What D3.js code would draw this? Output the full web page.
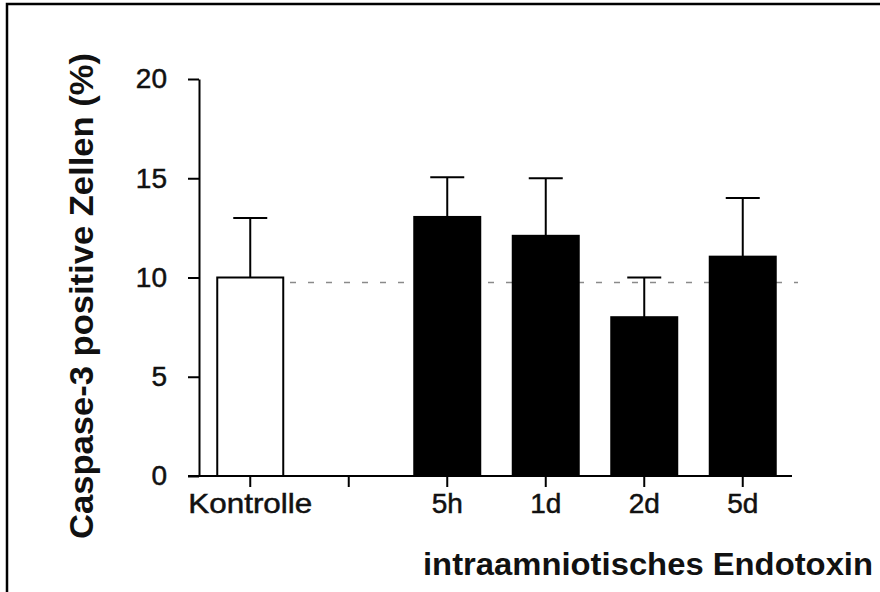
<!DOCTYPE html>
<html>
<head>
<meta charset="utf-8">
<script src="https://cdn.jsdelivr.net/npm/d3@7"></script>
<style>
  html, body { margin: 0; padding: 0; background: #fff; }
  svg { display: block; }
</style>
</head>
<body>
<svg id="chart" width="880" height="592"></svg>
<script>
// ---- data ----
const categories = ["Kontrolle", "gap", "5h", "1d", "2d", "5d"];
const tickLabels = ["Kontrolle", "", "5h", "1d", "2d", "5d"];
const means      = [10, null, 13.05, 12.1, 8, 11.05];
const upperError = [13, null, 15.05, 15, 10, 14];
const barFills   = ["white", null, "black", "black", "black", "black"];
const yTicks     = [0, 5, 10, 15, 20];
const referenceLevel = 9.75;
const yTitle = "Caspase-3 positive Zellen (%)";
const xTitle = "intraamniotisches Endotoxin";

const svg = d3.select("#chart");
const font = "'Liberation Sans', Arial, Helvetica, sans-serif";

// frame
svg.append("rect")
  .attr("x", 7).attr("y", 4)
  .attr("width", 900).attr("height", 620)
  .attr("fill", "white").attr("stroke", "black").attr("stroke-width", 2.5);

const x = d3.scaleBand().domain(categories).range([201, 792]).padding(0);
const y = d3.scaleLinear().domain([0, 20]).range([476, 79]);
const barW = x.bandwidth() * 0.67;
const capW = 34;

const rows = categories.map((c, i) => ({c, v: means[i], e: upperError[i], fill: barFills[i]}))
  .filter(d => d.v != null);

// dashed reference line
svg.append("line")
  .attr("x1", 290).attr("x2", 798)
  .attr("y1", y(referenceLevel)).attr("y2", y(referenceLevel))
  .attr("stroke", "#8a8a8a").attr("stroke-width", 1.5)
  .attr("stroke-dasharray", "6 12");

// error bars
const eg = svg.append("g").attr("stroke", "black").attr("stroke-width", 2);
eg.selectAll("line.v").data(rows).join("line")
  .attr("x1", d => x(d.c) + x.bandwidth() / 2)
  .attr("x2", d => x(d.c) + x.bandwidth() / 2)
  .attr("y1", d => y(d.v)).attr("y2", d => y(d.e));
eg.selectAll("line.cap").data(rows).join("line")
  .attr("x1", d => x(d.c) + x.bandwidth() / 2 - capW / 2)
  .attr("x2", d => x(d.c) + x.bandwidth() / 2 + capW / 2)
  .attr("y1", d => y(d.e)).attr("y2", d => y(d.e));

// bars
svg.append("g").selectAll("rect").data(rows).join("rect")
  .attr("x", d => x(d.c) + (x.bandwidth() - barW) / 2)
  .attr("width", barW)
  .attr("y", d => y(d.v))
  .attr("height", d => y(0) - y(d.v))
  .attr("fill", d => d.fill)
  .attr("stroke", "black").attr("stroke-width", 2);

// axes
const yAxis = svg.append("g").attr("transform", "translate(199,0)")
  .call(d3.axisLeft(y).tickValues(yTicks).tickSize(11).tickSizeOuter(0).tickPadding(21));
const xAxis = svg.append("g").attr("transform", "translate(0,476)")
  .call(d3.axisBottom(x).tickSize(11).tickSizeOuter(0).tickPadding(6)
    .tickFormat((d, i) => tickLabels[i]));

[yAxis, xAxis].forEach(g => {
  g.select("path.domain").attr("stroke", "black").attr("stroke-width", 2);
  g.selectAll("line").attr("stroke", "black").attr("stroke-width", 2);
  g.selectAll("text").attr("fill", "#111")
    .attr("stroke", "#111").attr("stroke-width", 0.5)
    .style("font-family", font).style("font-size", "28px");
});
xAxis.select("path.domain").attr("d", "M188,0H792");
xAxis.selectAll("text").filter(d => d === "Kontrolle")
  .attr("textLength", 124).attr("lengthAdjust", "spacingAndGlyphs");

// axis titles
svg.append("text")
  .attr("transform", "translate(93,296) rotate(-90)")
  .attr("text-anchor", "middle")
  .attr("textLength", 486).attr("lengthAdjust", "spacingAndGlyphs")
  .style("font-family", font).style("font-size", "33px").style("font-weight", "bold")
  .attr("fill", "#111")
  .text(yTitle);

svg.append("text")
  .attr("x", 423).attr("y", 575)
  .attr("textLength", 450).attr("lengthAdjust", "spacingAndGlyphs")
  .style("font-family", font).style("font-size", "32px").style("font-weight", "bold")
  .attr("fill", "#111")
  .text(xTitle);
</script>
</body>
</html>
